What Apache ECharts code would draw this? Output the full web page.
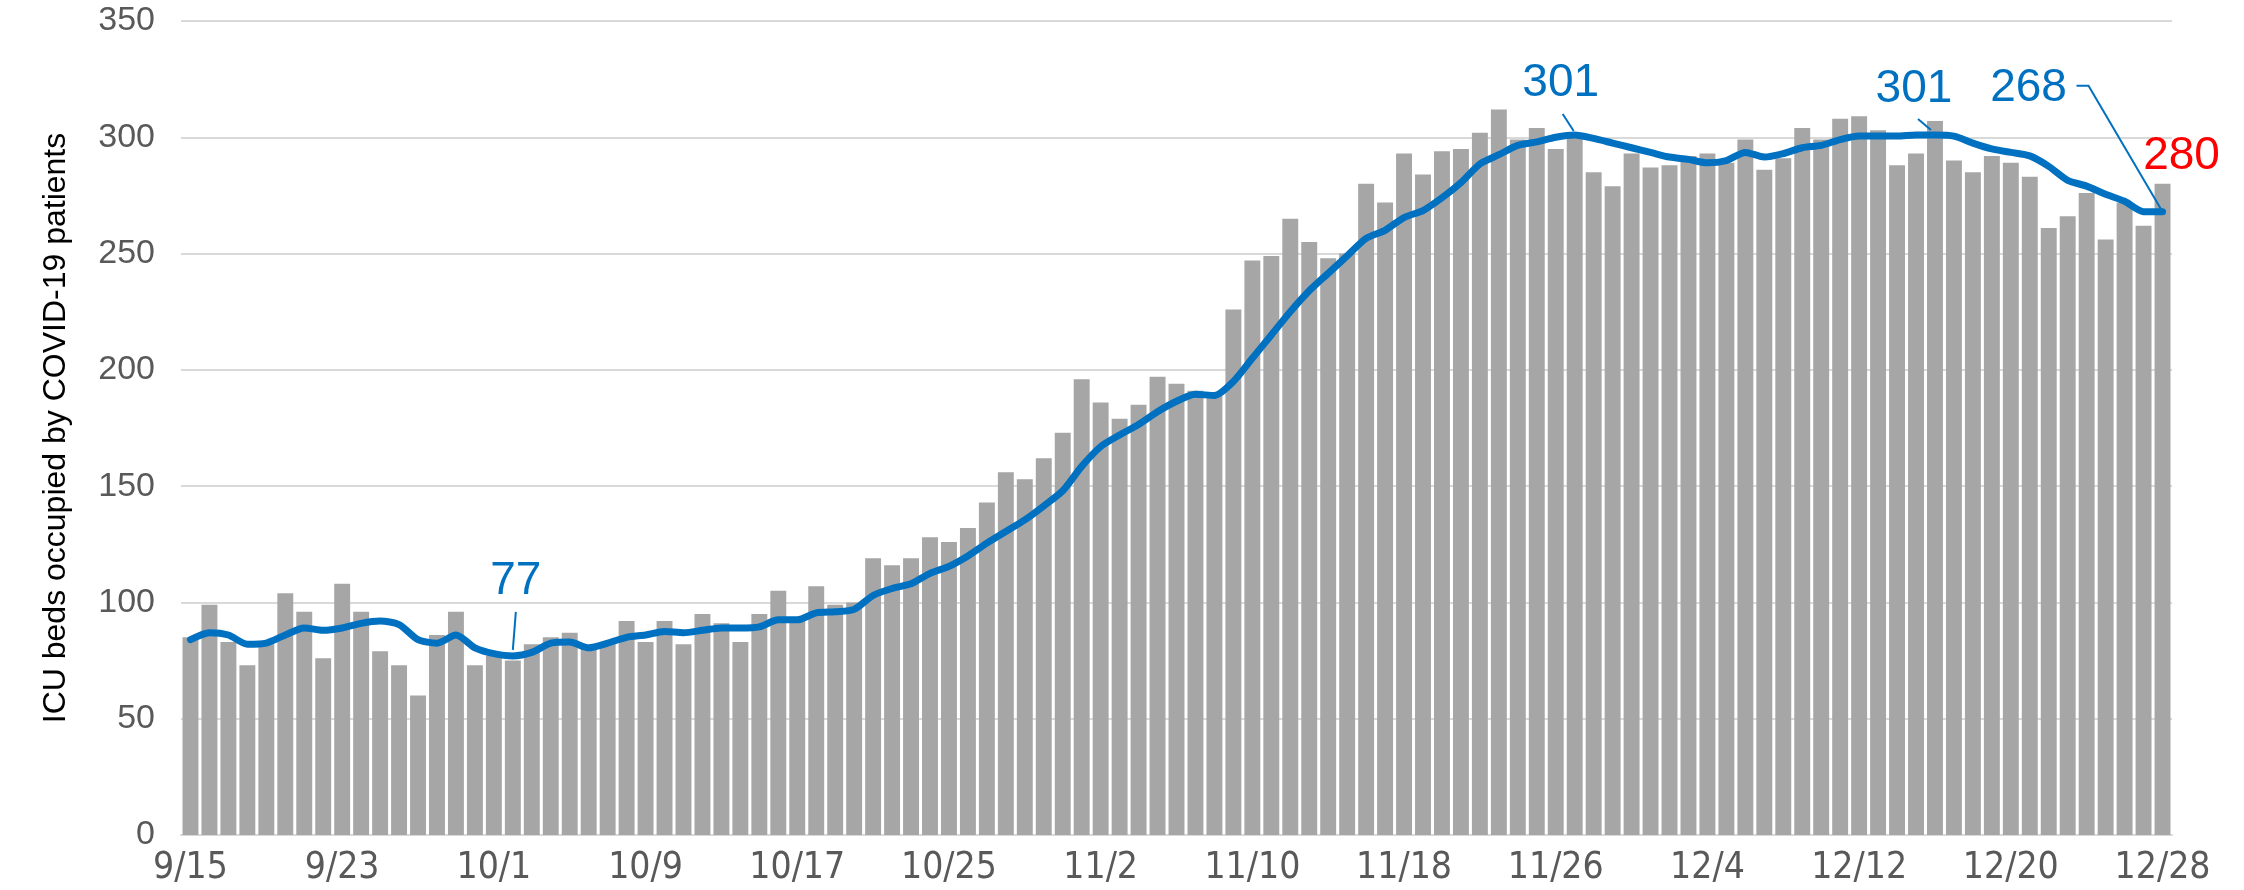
<!DOCTYPE html>
<html>
<head>
<meta charset="utf-8">
<script src="https://cdn.jsdelivr.net/npm/echarts@6/dist/echarts.min.js"></script>
<style>
  html, body { margin: 0; padding: 0; background: #fff; }
  #chart { width: 2244px; height: 890px; }
</style>
</head>
<body>
<div id="chart"></div>
<script>
const FONT = '"Liberation Sans", Arial, sans-serif'
const NARROW = '"Liberation Sans Narrow", "Arial Narrow", "DejaVu Sans Condensed", sans-serif'

const days = [
  '9/15', '9/16', '9/17', '9/18', '9/19', '9/20', '9/21', '9/22', '9/23', '9/24', '9/25', '9/26', '9/27', '9/28', '9/29', '9/30',
  '10/1', '10/2', '10/3', '10/4', '10/5', '10/6', '10/7', '10/8', '10/9', '10/10', '10/11', '10/12', '10/13', '10/14', '10/15', '10/16',
  '10/17', '10/18', '10/19', '10/20', '10/21', '10/22', '10/23', '10/24', '10/25', '10/26', '10/27', '10/28', '10/29', '10/30', '10/31',
  '11/1', '11/2', '11/3', '11/4', '11/5', '11/6', '11/7', '11/8', '11/9', '11/10', '11/11', '11/12', '11/13', '11/14', '11/15',
  '11/16', '11/17', '11/18', '11/19', '11/20', '11/21', '11/22', '11/23', '11/24', '11/25', '11/26', '11/27', '11/28', '11/29', '11/30',
  '12/1', '12/2', '12/3', '12/4', '12/5', '12/6', '12/7', '12/8', '12/9', '12/10', '12/11', '12/12', '12/13', '12/14',
  '12/15', '12/16', '12/17', '12/18', '12/19', '12/20', '12/21', '12/22', '12/23', '12/24', '12/25', '12/26', '12/27', '12/28'
]

// daily ICU beds occupied
const icuBeds = [
  85, 99, 83, 73, 82, 104, 96, 76, 108, 96, 79, 73, 60, 86, 96, 73,
  77, 75, 82, 85, 87, 81, 83, 92, 83, 92, 82, 95, 91, 83, 95, 105,
  92, 107, 99, 100, 119, 116, 119, 128, 126, 132, 143, 156, 153, 162, 173,
  196, 186, 179, 185, 197, 194, 191, 190, 226, 247, 249, 265, 255, 248,
  250, 280, 272, 293, 284, 294, 295, 302, 312, 299, 304, 295, 302, 285, 279, 293,
  287, 288, 292, 293, 289, 299, 286, 291, 304, 299, 308, 309, 303, 288,
  293, 307, 290, 285, 292, 289, 283, 261, 266, 276, 256, 272, 262, 280
]

// 7-day average (blue line)
const avg7 = [
  84, 87, 86, 82, 82.5, 86, 89, 88, 89, 91, 92, 90.5, 84, 82.5, 86, 80.5,
  78, 77, 78.5, 82.5, 83, 80.5, 82.5, 85, 86, 87.5, 87, 88, 89, 89, 89.5, 92.5,
  92.5, 95.5, 96, 97, 103, 106, 108, 112.5, 115.5, 120, 125.5, 130.5, 135.5, 141.5, 148,
  158.5, 167, 172, 176.5, 182, 186.5, 189.5, 189, 195, 205, 215, 225, 234, 241.5,
  249, 256.5, 260, 265.5, 268.5, 274, 280.5, 288.5, 292.5, 296.5, 298, 300, 301, 299.5, 297.5, 295.5,
  293.5, 291.5, 290.5, 289, 290, 293.5, 291.5, 293, 295.5, 296.5, 299, 300.5, 300.5, 300.5,
  301, 301, 300.5, 297.5, 295, 293.5, 292, 287.5, 281.5, 279, 275.5, 272.5, 268, 268
]

const yTicks = [0, 50, 100, 150, 200, 250, 300, 350]

// which average points get a callout
const callouts = [
  { idx: 17, text: [3, -75], leader: [[3, -44], [0, -6]] },
  { idx: 73, text: [-14, -52], leader: [[-12, -21], [-1, -4]] },
  { idx: 92, text: [-21, -46], leader: [[-17, -16], [-4, -5]] },
  { idx: 104, text: [-134, -123], leader: [[-86, -126], [-74, -126], [0, 0]] }
]

const last = icuBeds.length - 1
const barData = icuBeds.map((v, i) => i === last ? {
  value: v,
  label: {
    show: true,
    position: 'top',
    distance: 4,
    offset: [19, 0],
    color: '#FF0000',
    fontSize: 46,
    fontFamily: FONT
  }
} : v)

const chart = echarts.init(document.getElementById('chart'))

chart.setOption({
  animation: false,
  backgroundColor: '#fff',
  grid: {
    left: 181,
    right: 72,
    top: 21,
    bottom: 55,
    containLabel: false,
    outerBoundsMode: 'none'
  },
  xAxis: {
    type: 'category',
    data: days,
    boundaryGap: true,
    axisTick: { show: false },
    axisLine: { lineStyle: { color: '#D9D9D9', width: 2 } },
    axisLabel: {
      interval: 7,
      margin: 15,
      fontSize: 37,
      color: '#595959',
      fontFamily: NARROW
    }
  },
  yAxis: {
    type: 'value',
    min: yTicks[0],
    max: yTicks[yTicks.length - 1],
    interval: 50,
    axisLine: { show: false },
    axisTick: { show: false },
    axisLabel: {
      margin: 26,
      fontSize: 34,
      color: '#595959',
      fontFamily: FONT
    },
    splitLine: { lineStyle: { color: '#D9D9D9', width: 2 } }
  },
  series: [{
    name: 'ICU beds',
    type: 'bar',
    data: barData,
    barCategoryGap: '16%',
    itemStyle: { color: '#A6A6A6' }
  }, {
    name: '7-day average',
    type: 'line',
    data: avg7,
    smooth: 0.25,
    showSymbol: false,
    symbol: 'none',
    lineStyle: { color: '#0070C0', width: 7, cap: 'round', join: 'round' },
    z: 3
  }]
})

// callouts placed relative to the points from the chart's own scales
const graphics = [{
  type: 'text',
  x: 56,
  y: 428,
  rotation: Math.PI / 2,
  z: 100,
  style: {
    text: 'ICU beds occupied by COVID-19 patients',
    font: '32px ' + FONT,
    fill: '#000',
    align: 'center',
    verticalAlign: 'middle'
  }
}]

callouts.forEach(c => {
  const p = chart.convertToPixel({ seriesIndex: 1 }, [c.idx, avg7[c.idx]])
  graphics.push({
    type: 'text',
    x: p[0] + c.text[0],
    y: p[1] + c.text[1],
    z: 100,
    style: {
      text: String(Math.round(avg7[c.idx])),
      font: '46px ' + FONT,
      fill: '#0070C0',
      align: 'center',
      verticalAlign: 'middle'
    }
  })
  graphics.push({
    type: 'polyline',
    z: 100,
    shape: { points: c.leader.map(([dx, dy]) => [p[0] + dx, p[1] + dy]) },
    style: { stroke: '#0070C0', lineWidth: 2, fill: null }
  })
})

chart.setOption({ graphic: graphics })
</script>
</body>
</html>
